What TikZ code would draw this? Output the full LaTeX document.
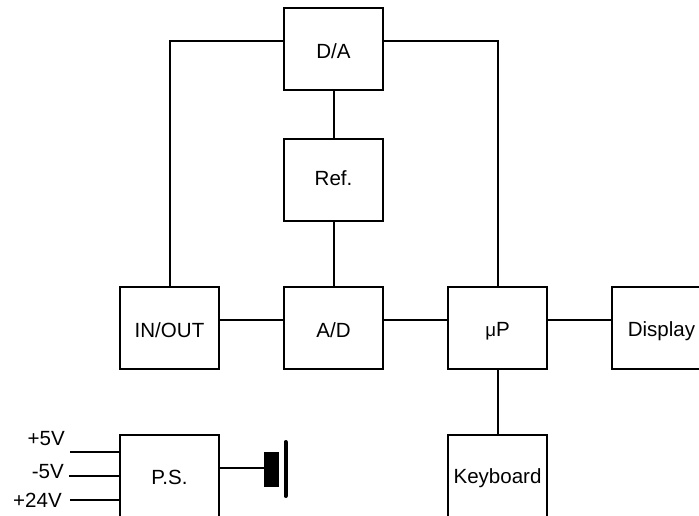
\documentclass[tikz,border=0pt]{standalone}
\usepackage{fontspec}
\setmainfont{Liberation Sans}
\tikzset{
  wire/.style={line width=1.5pt},
  blockbox/.style={draw,line width=1.5pt,fill=white,minimum width=74.25pt,minimum height=61.5pt,inner sep=0pt,outer sep=0pt,
    text height=14.2pt,text depth=0pt,font=\fontsize{15.4pt}{18pt}\selectfont},
  voltlabel/.style={anchor=east,inner sep=0pt,font=\fontsize{15.4pt}{18pt}\selectfont},
  cond/.style={fill=black,draw=none,minimum width=11.25pt,minimum height=26.25pt,inner sep=0pt,outer sep=0pt}
}
\begin{document}
\begin{tikzpicture}[x=0.75pt,y=-0.75pt]
\useasboundingbox (0,0) rectangle (699,516);
\clip (0,0) rectangle (699,516);
\node[blockbox] (da) at (333.5,49) {D/A};
\node[blockbox] (ref) at (333.5,180) {\raisebox{3pt}{Ref.}};
\node[blockbox] (ad) at (333.5,328) {A/D};
\node[blockbox] (io) at (169.5,328) {IN/OUT};
\node[blockbox] (up) at (497.5,328) {\raisebox{0.75pt}{{\fontsize{14pt}{18pt}\selectfont μ}P}};
\node[blockbox] (disp) at (661.5,328) {\raisebox{1pt}{Display}};
\node[blockbox] (kb) at (497.5,476) {\raisebox{1.5pt}{Keyboard}};
\node[blockbox] (ps) at (169.5,476) {\raisebox{0.75pt}{P.S.}};
\node[cond] (gnd) at (271.5,469.2) {};
\coordinate (bara) at (285.5,442);
\coordinate (barb) at (285.5,496);
\coordinate (v5) at (70,452);
\coordinate (vm5) at (69,476);
\coordinate (v24) at (70,500);
\coordinate (psout) at ([yshift=6pt]ps.east);
\node[voltlabel] (l5) at (65,439) {+5V};
\node[voltlabel] (lm5) at (64,472) {-5V};
\node[voltlabel] (l24) at (62,500) {+24V};
\draw[wire] ([yshift=6pt]da.west) -| (io.north);
\draw[wire] ([yshift=6pt]da.east) -| (up.north);
\draw[wire] (da.south) -- (ref.north);
\draw[wire] (ref.south) -- (ad.north);
\draw[wire] ([yshift=6pt]io.east) -- ([yshift=6pt]ad.west);
\draw[wire] ([yshift=6pt]ad.east) -- ([yshift=6pt]up.west);
\draw[wire] ([yshift=6pt]up.east) -- ([yshift=6pt]disp.west);
\draw[wire] (up.south) -- (kb.north);
\draw[wire] (v5) -- (v5 -| ps.west);
\draw[wire] (vm5) -- (vm5 -| ps.west);
\draw[wire] (v24) -- (v24 -| ps.west);
\draw[wire] (psout) -- (psout -| gnd.west);
\draw[line width=3pt,line cap=round] (bara) -- (barb);
\end{tikzpicture}
\end{document}
